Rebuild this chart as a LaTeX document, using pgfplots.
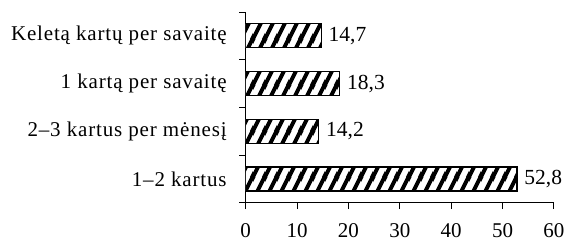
\documentclass[border=0pt]{standalone}
\usepackage{pgfplots}
\pgfplotsset{compat=1.18}
\usetikzlibrary{patterns}
\usepackage{fontspec}
\setmainfont{Liberation Serif}
\pgfdeclarepatternformonly{mystripes}{\pgfqpoint{0bp}{0bp}}{\pgfqpoint{11.5bp}{23bp}}{\pgfqpoint{11.5bp}{23bp}}{%
  \pgfsetlinewidth{4bp}%
  \pgfpathmoveto{\pgfqpoint{-23bp}{-23bp}}\pgfpathlineto{\pgfqpoint{11.5bp}{46bp}}%
  \pgfpathmoveto{\pgfqpoint{-11.5bp}{-23bp}}\pgfpathlineto{\pgfqpoint{23bp}{46bp}}%
  \pgfpathmoveto{\pgfqpoint{0bp}{-23bp}}\pgfpathlineto{\pgfqpoint{34.5bp}{46bp}}%
  \pgfusepath{stroke}%
}
\begin{document}
\begin{tikzpicture}
\path[use as bounding box] (-245.7bp,-43.3bp) rectangle (321.3bp,202.7bp);
\begin{axis}[
  at={(0,0)}, anchor=south west,
  scale only axis, width=308.3bp, height=190.7bp,
  xbar, bar width=24bp,
  xmin=0, xmax=60, ymin=0.5, ymax=4.5,
  axis lines=left, axis line style={-, line width=1bp},
  font=\fontsize{21bp}{24bp}\selectfont,
  /pgf/number format/assume math mode=true,
  xtick={0,10,...,60},
  tick align=outside, major tick length=6.5bp,
  tick style={black, line width=1bp},
  ytick={1,2,3,4},
  yticklabels={1--2 kartus, 2--3 kartus per mėnesį, 1 kartą per savaitę, Keletą kartų per savaitę},
  major y tick style={draw=none},
  extra y ticks={0.5,1.5,2.5,3.5,4.5},
  extra y tick labels={},
  extra y tick style={major y tick style={draw=black}},
  yticklabel style={xshift=-9bp, font=\fontsize{21bp}{24bp}\selectfont\addfontfeatures{LetterSpace=4}},
  xticklabel style={yshift=-11bp},
  nodes near coords,
  nodes near coords style={anchor=west, xshift=3.5bp, font=\fontsize{21.5bp}{24bp}\selectfont, /pgf/number format/.cd, use comma, fixed, fixed zerofill, precision=1},
]
\addplot[draw=black, line width=1.3bp, fill=white, postaction={pattern=mystripes, pattern color=black}]
  coordinates {(52.8,1) (14.2,2) (18.3,3) (14.7,4)};
\end{axis}
\end{tikzpicture}
\end{document}
